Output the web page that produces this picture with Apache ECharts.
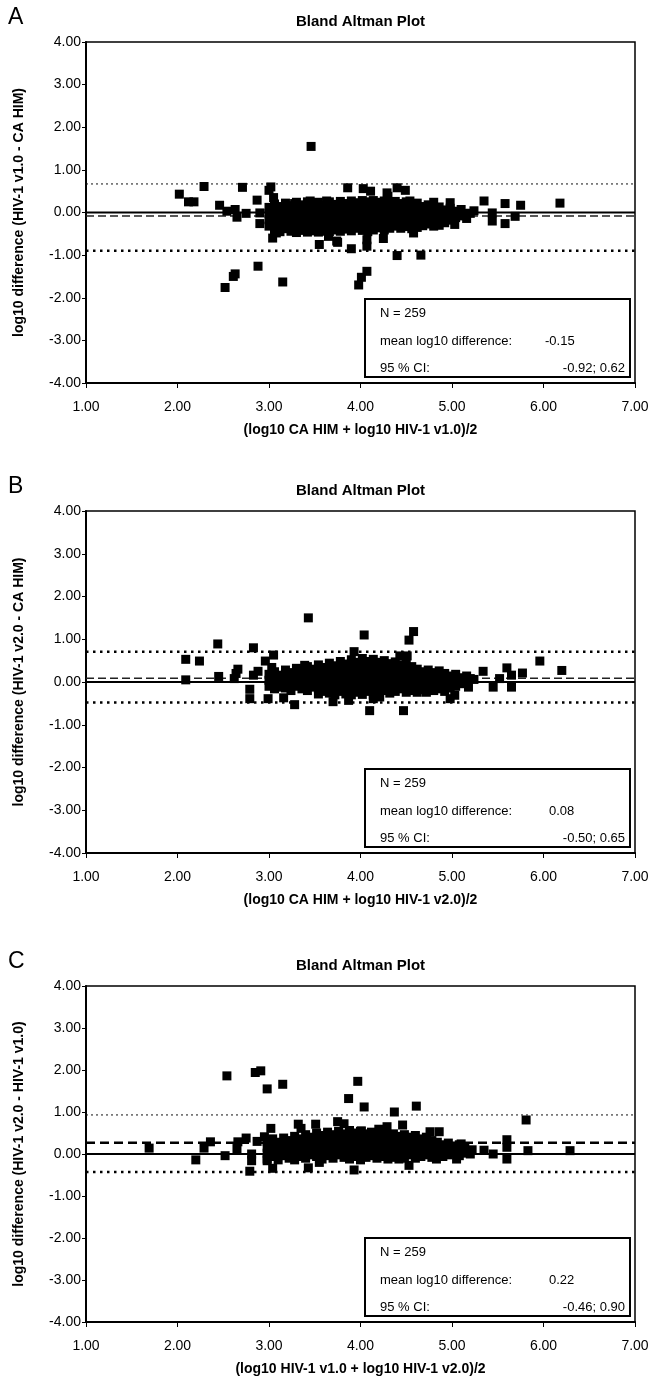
<!DOCTYPE html>
<html><head><meta charset="utf-8">
<script src="https://cdn.jsdelivr.net/npm/echarts@6/dist/echarts.min.js"></script>
<style>html,body{margin:0;padding:0;background:#fff}#c{width:654px;height:1386px}</style>
</head><body><div id="c"></div>
<script>
// ---------- DATA ----------
const panelLetters = ['A', 'B', 'C'];
const chartTitle = 'Bland Altman Plot';
const xTitles = ['(log10 CA HIM + log10 HIV-1 v1.0)/2', '(log10 CA HIM + log10 HIV-1 v2.0)/2', '(log10 HIV-1 v1.0 + log10 HIV-1 v2.0)/2'];
const yTitles = ['log10 difference (HIV-1 v1.0 - CA HIM)', 'log10 difference (HIV-1 v2.0 - CA HIM)', 'log10 difference (HIV-1 v2.0 - HIV-1 v1.0)'];
const xTickValues = [1, 2, 3, 4, 5, 6, 7];
const yTickValues = [-4, -3, -2, -1, 0, 1, 2, 3, 4];
const nCounts = [259, 259, 259];
const meanTexts = ['-0.15', '0.08', '0.22'];
const ciTexts = ['-0.92; 0.62', '-0.50; 0.65', '-0.46; 0.90'];
const zeroLines = [0, 0, 0];
const meanLines = [-0.08, 0.09, 0.27];
const upperLines = [0.67, 0.71, 0.93];
const lowerLines = [-0.90, -0.48, -0.43];

const pointsA = [
[3.46,1.55],[2.02,0.43],[2.12,0.25],[2.18,0.25],[2.29,0.61],[2.46,0.17],[2.54,0.03],[2.63,0.07],[2.65,-0.11],[2.75,-0.02],
[2.71,0.59],[2.87,0.29],[2.90,-0.01],[2.90,-0.26],[3.00,0.52],[3.02,0.60],[3.05,0.35],[3.04,-0.60],[3.08,-0.48],[2.88,-1.26],
[2.63,-1.44],[2.61,-1.50],[2.52,-1.76],[3.15,-1.63],[3.55,-0.75],[3.75,-0.70],[3.65,-0.56],[3.90,-0.85],[4.07,-0.64],[4.07,-0.79],
[4.07,-1.38],[4.01,-1.52],[3.98,-1.70],[4.40,-1.01],[4.25,-0.61],[3.86,0.58],[4.03,0.56],[4.11,0.50],[4.29,0.46],[4.40,0.58],
[4.49,0.52],[3.45,0.27],[3.28,0.21],[3.63,0.27],[4.30,0.38],[4.23,0.23],[4.54,0.27],[4.80,0.24],[4.98,0.23],[5.35,0.27],
[5.58,0.21],[5.75,0.17],[6.18,0.22],[5.44,-0.01],[5.44,-0.20],[5.58,-0.26],[5.69,-0.09],[5.20,-0.02],[5.03,-0.28],[4.83,-0.26],
[4.58,-0.48],[4.66,-1.00],[3.74,-0.67],
[3.00,0.12],[3.00,-0.02],[3.00,-0.17],[3.00,-0.32],
[3.06,0.20],[3.06,0.05],[3.06,-0.10],[3.06,-0.26],[3.06,-0.42],
[3.12,0.14],[3.12,-0.01],[3.12,-0.16],[3.12,-0.31],[3.12,-0.45],
[3.18,0.22],[3.18,0.07],[3.18,-0.08],[3.18,-0.23],[3.18,-0.38],
[3.24,0.16],[3.24,0.01],[3.24,-0.14],[3.24,-0.29],[3.24,-0.44],
[3.30,0.24],[3.30,0.09],[3.30,-0.06],[3.30,-0.21],[3.30,-0.36],[3.30,-0.47],
[3.36,0.18],[3.36,0.03],[3.36,-0.12],[3.36,-0.27],[3.36,-0.42],
[3.42,0.25],[3.42,0.10],[3.42,-0.05],[3.42,-0.20],[3.42,-0.35],[3.42,-0.46],
[3.48,0.17],[3.48,0.02],[3.48,-0.13],[3.48,-0.28],[3.48,-0.43],
[3.54,0.24],[3.54,0.09],[3.54,-0.06],[3.54,-0.21],[3.54,-0.36],[3.54,-0.46],
[3.60,0.16],[3.60,0.01],[3.60,-0.14],[3.60,-0.29],[3.60,-0.44],
[3.66,0.25],[3.66,0.11],[3.66,-0.04],[3.66,-0.19],[3.66,-0.34],[3.66,-0.45],
[3.72,0.19],[3.72,0.04],[3.72,-0.11],[3.72,-0.26],[3.72,-0.41],
[3.78,0.26],[3.78,0.13],[3.78,-0.02],[3.78,-0.17],[3.78,-0.32],[3.78,-0.44],
[3.84,0.21],[3.84,0.06],[3.84,-0.09],[3.84,-0.24],[3.84,-0.39],
[3.90,0.27],[3.90,0.15],[3.90,0.00],[3.90,-0.15],[3.90,-0.30],[3.90,-0.43],
[3.96,0.23],[3.96,0.08],[3.96,-0.07],[3.96,-0.22],[3.96,-0.37],
[4.02,0.28],[4.02,0.17],[4.02,0.02],[4.02,-0.13],[4.02,-0.28],[4.02,-0.42],
[4.08,0.25],[4.08,0.10],[4.08,-0.05],[4.08,-0.20],[4.08,-0.35],[4.08,-0.45],
[4.14,0.28],[4.14,0.16],[4.14,0.01],[4.14,-0.14],[4.14,-0.29],[4.14,-0.41],
[4.20,0.24],[4.20,0.09],[4.20,-0.06],[4.20,-0.21],[4.20,-0.36],
[4.26,0.27],[4.26,0.15],[4.26,0.00],[4.26,-0.15],[4.26,-0.30],[4.26,-0.41],
[4.32,0.23],[4.32,0.08],[4.32,-0.07],[4.32,-0.22],[4.32,-0.37],
[4.38,0.26],[4.38,0.13],[4.38,-0.02],[4.38,-0.17],[4.38,-0.32],
[4.44,0.21],[4.44,0.06],[4.44,-0.09],[4.44,-0.24],[4.44,-0.37],
[4.50,0.25],[4.50,0.11],[4.50,-0.04],[4.50,-0.19],[4.50,-0.33],
[4.56,0.18],[4.56,0.03],[4.56,-0.12],[4.56,-0.27],[4.56,-0.38],
[4.62,0.22],[4.62,0.07],[4.62,-0.08],[4.62,-0.23],[4.62,-0.35],
[4.68,0.14],[4.68,-0.01],[4.68,-0.16],[4.68,-0.31],
[4.74,0.18],[4.74,0.03],[4.74,-0.12],[4.74,-0.27],
[4.80,0.10],[4.80,-0.05],[4.80,-0.20],[4.80,-0.32],
[4.86,0.13],[4.86,-0.02],[4.86,-0.17],[4.86,-0.30],
[4.92,0.06],[4.92,-0.09],[4.92,-0.24],
[4.98,0.10],[4.98,-0.05],[4.98,-0.18],
[5.04,0.03],[5.04,-0.12],
[5.10,0.07],[5.10,-0.08],
[5.16,-0.02],[5.16,-0.14],
[5.24,0.04]
];

const pointsB = [
[2.09,0.53],[2.09,0.05],[2.24,0.49],[2.44,0.89],[2.45,0.13],[2.62,0.08],[2.64,0.20],[2.66,0.30],[2.83,0.80],[2.79,-0.17],
[2.79,-0.39],[2.83,0.16],[2.88,0.25],[2.96,0.49],[3.05,0.63],[3.03,0.34],[2.99,-0.39],[3.16,-0.37],[3.28,-0.53],[3.43,1.50],
[3.39,0.39],[3.70,-0.46],[3.87,-0.43],[4.04,1.10],[4.10,-0.67],[3.93,0.71],[4.47,-0.67],[4.43,0.61],[4.53,0.98],[4.58,1.18],
[4.51,0.61],[5.34,0.25],[5.60,0.33],[5.77,0.21],[5.96,0.49],[6.20,0.27],[5.45,-0.12],[5.65,-0.12],[5.52,0.08],[5.65,0.16],
[4.98,-0.39],[5.03,-0.31],[5.18,-0.12],[5.20,0.08],[4.72,-0.24],[4.14,-0.39],[4.21,-0.35],
[3.00,0.18],[3.00,0.04],[3.00,-0.10],
[3.06,0.24],[3.06,0.10],[3.06,-0.04],[3.06,-0.16],
[3.12,0.16],[3.12,0.02],[3.12,-0.12],
[3.18,0.28],[3.18,0.14],[3.18,0.00],[3.18,-0.14],
[3.24,0.22],[3.24,0.08],[3.24,-0.06],[3.24,-0.20],
[3.30,0.32],[3.30,0.18],[3.30,0.04],[3.30,-0.10],
[3.36,0.26],[3.36,0.12],[3.36,-0.02],[3.36,-0.16],
[3.42,0.36],[3.42,0.22],[3.42,0.08],[3.42,-0.06],[3.42,-0.20],
[3.48,0.30],[3.48,0.16],[3.48,0.02],[3.48,-0.12],
[3.54,0.40],[3.54,0.26],[3.54,0.12],[3.54,-0.02],[3.54,-0.16],[3.54,-0.28],
[3.60,0.34],[3.60,0.20],[3.60,0.06],[3.60,-0.08],[3.60,-0.22],
[3.66,0.44],[3.66,0.30],[3.66,0.16],[3.66,0.02],[3.66,-0.12],[3.66,-0.26],
[3.72,0.38],[3.72,0.24],[3.72,0.10],[3.72,-0.04],[3.72,-0.18],[3.72,-0.30],
[3.78,0.48],[3.78,0.34],[3.78,0.20],[3.78,0.06],[3.78,-0.08],[3.78,-0.22],
[3.84,0.42],[3.84,0.28],[3.84,0.14],[3.84,0.00],[3.84,-0.14],[3.84,-0.28],
[3.90,0.52],[3.90,0.38],[3.90,0.24],[3.90,0.10],[3.90,-0.04],[3.90,-0.18],[3.90,-0.30],
[3.96,0.46],[3.96,0.32],[3.96,0.18],[3.96,0.04],[3.96,-0.10],[3.96,-0.24],
[4.02,0.55],[4.02,0.41],[4.02,0.27],[4.02,0.13],[4.02,-0.01],[4.02,-0.15],[4.02,-0.29],
[4.08,0.48],[4.08,0.34],[4.08,0.20],[4.08,0.06],[4.08,-0.08],[4.08,-0.22],
[4.14,0.53],[4.14,0.39],[4.14,0.25],[4.14,0.11],[4.14,-0.03],[4.14,-0.17],[4.14,-0.30],
[4.20,0.46],[4.20,0.32],[4.20,0.18],[4.20,0.04],[4.20,-0.10],[4.20,-0.24],
[4.26,0.50],[4.26,0.36],[4.26,0.22],[4.26,0.08],[4.26,-0.06],[4.26,-0.20],
[4.32,0.43],[4.32,0.29],[4.32,0.15],[4.32,0.01],[4.32,-0.13],[4.32,-0.26],
[4.38,0.47],[4.38,0.33],[4.38,0.19],[4.38,0.05],[4.38,-0.09],[4.38,-0.22],
[4.44,0.40],[4.44,0.26],[4.44,0.12],[4.44,-0.02],[4.44,-0.16],
[4.50,0.44],[4.50,0.30],[4.50,0.16],[4.50,0.02],[4.50,-0.12],[4.50,-0.24],
[4.56,0.36],[4.56,0.22],[4.56,0.08],[4.56,-0.06],[4.56,-0.20],
[4.62,0.30],[4.62,0.16],[4.62,0.02],[4.62,-0.12],[4.62,-0.24],
[4.68,0.24],[4.68,0.10],[4.68,-0.04],[4.68,-0.18],
[4.74,0.28],[4.74,0.14],[4.74,0.00],[4.74,-0.14],
[4.80,0.22],[4.80,0.08],[4.80,-0.06],[4.80,-0.20],
[4.86,0.26],[4.86,0.12],[4.86,-0.02],[4.86,-0.16],
[4.92,0.20],[4.92,0.06],[4.92,-0.08],[4.92,-0.22],
[4.98,0.14],[4.98,0.00],[4.98,-0.14],
[5.04,0.18],[5.04,0.04],[5.04,-0.10],
[5.10,0.10],[5.10,-0.04],
[5.16,0.14],[5.16,0.00],
[5.24,0.06]
];

const pointsC = [
[1.69,0.14],[2.20,-0.14],[2.29,0.14],[2.36,0.29],[2.52,-0.04],[2.54,1.86],[2.65,0.13],[2.66,0.29],[2.75,0.38],[2.79,-0.41],
[2.81,-0.16],[2.81,0.00],[2.85,1.94],[2.91,1.98],[2.98,1.55],[3.15,1.66],[3.02,0.61],[2.95,0.41],[2.87,0.30],[2.98,-0.16],
[3.04,-0.34],[3.28,-0.14],[3.43,-0.33],[3.32,0.71],[3.35,0.61],[3.51,0.71],[3.75,0.77],[3.82,0.72],[3.87,1.32],[3.97,1.73],
[4.04,1.12],[3.93,-0.38],[3.55,-0.20],[4.37,1.00],[4.46,0.69],[4.01,0.55],[4.20,0.59],[4.29,0.65],[4.61,1.14],[5.81,0.81],
[5.83,0.08],[6.29,0.08],[5.60,0.34],[5.60,0.16],[5.60,-0.12],[5.35,0.09],[5.45,0.00],[5.10,0.24],[5.20,0.00],[5.05,-0.12],
[4.83,-0.12],[4.76,0.53],[4.86,0.53],[4.53,-0.27],
[2.98,0.30],[2.98,0.16],[2.98,0.02],[2.98,-0.12],
[3.04,0.36],[3.04,0.22],[3.04,0.08],[3.04,-0.06],
[3.10,0.28],[3.10,0.14],[3.10,0.00],[3.10,-0.14],
[3.16,0.38],[3.16,0.24],[3.16,0.10],[3.16,-0.04],
[3.22,0.32],[3.22,0.18],[3.22,0.04],[3.22,-0.10],
[3.28,0.42],[3.28,0.28],[3.28,0.14],[3.28,0.00],
[3.34,0.36],[3.34,0.22],[3.34,0.08],[3.34,-0.06],
[3.40,0.46],[3.40,0.32],[3.40,0.18],[3.40,0.04],[3.40,-0.10],
[3.46,0.40],[3.46,0.26],[3.46,0.12],[3.46,-0.02],
[3.52,0.50],[3.52,0.36],[3.52,0.22],[3.52,0.08],[3.52,-0.06],
[3.58,0.44],[3.58,0.30],[3.58,0.16],[3.58,0.02],[3.58,-0.12],
[3.64,0.52],[3.64,0.38],[3.64,0.24],[3.64,0.10],[3.64,-0.04],
[3.70,0.46],[3.70,0.32],[3.70,0.18],[3.70,0.04],[3.70,-0.10],
[3.76,0.54],[3.76,0.40],[3.76,0.26],[3.76,0.12],[3.76,-0.02],
[3.82,0.48],[3.82,0.34],[3.82,0.20],[3.82,0.06],[3.82,-0.08],
[3.88,0.56],[3.88,0.42],[3.88,0.28],[3.88,0.14],[3.88,0.00],[3.88,-0.12],
[3.94,0.50],[3.94,0.36],[3.94,0.22],[3.94,0.08],[3.94,-0.06],
[4.00,0.54],[4.00,0.40],[4.00,0.26],[4.00,0.12],[4.00,-0.02],[4.00,-0.14],
[4.06,0.48],[4.06,0.34],[4.06,0.20],[4.06,0.06],[4.06,-0.08],
[4.12,0.52],[4.12,0.38],[4.12,0.24],[4.12,0.10],[4.12,-0.04],
[4.18,0.46],[4.18,0.32],[4.18,0.18],[4.18,0.04],[4.18,-0.10],
[4.24,0.50],[4.24,0.36],[4.24,0.22],[4.24,0.08],[4.24,-0.06],
[4.30,0.44],[4.30,0.30],[4.30,0.16],[4.30,0.02],[4.30,-0.12],
[4.36,0.48],[4.36,0.34],[4.36,0.20],[4.36,0.06],[4.36,-0.08],
[4.42,0.42],[4.42,0.28],[4.42,0.14],[4.42,0.00],[4.42,-0.12],
[4.48,0.46],[4.48,0.32],[4.48,0.18],[4.48,0.04],[4.48,-0.10],
[4.54,0.40],[4.54,0.26],[4.54,0.12],[4.54,-0.02],
[4.60,0.44],[4.60,0.30],[4.60,0.16],[4.60,0.02],[4.60,-0.10],
[4.66,0.36],[4.66,0.22],[4.66,0.08],[4.66,-0.06],
[4.72,0.40],[4.72,0.26],[4.72,0.12],[4.72,-0.02],
[4.78,0.32],[4.78,0.18],[4.78,0.04],[4.78,-0.08],
[4.84,0.28],[4.84,0.14],[4.84,0.00],
[4.90,0.22],[4.90,0.08],[4.90,-0.06],
[4.96,0.26],[4.96,0.12],[4.96,-0.02],
[5.02,0.18],[5.02,0.04],
[5.08,0.22],[5.08,0.08],[5.08,-0.04],
[5.14,0.14],[5.14,0.02],
[5.22,0.10]
];
const panelPoints = [pointsA, pointsB, pointsC];

// ---------- LAYOUT / STYLE ----------
const FONT = '"Liberation Sans", Arial, Helvetica, sans-serif';
const gridTops = [42, 511, 986];
const gridHeights = [341, 342, 336];
const gridL = 86, gridW = 549;
const meanStyles = [
  {color:'#222', width:1.5, type:[8,4]},
  {color:'#222', width:1.5, type:[8,4]},
  {color:'#000', width:2.5, type:[9,5]}
];
const upperStyles = [
  {color:'#111', width:1, type:[2,3]},
  {color:'#000', width:2.5, type:[2.5,4.5]},
  {color:'#111', width:1, type:[2,3]}
];
const lowerStyle = {color:'#000', width:2.5, type:[2.5,4.5]};

const grids = [], xAxes = [], yAxes = [], series = [], graphics = [];
const xMin = xTickValues[0], xMax = xTickValues[xTickValues.length-1];
const yMin = yTickValues[0], yMax = yTickValues[yTickValues.length-1];

for (let i = 0; i < 3; i++) {
  const top = gridTops[i], h = gridHeights[i];
  grids.push({left: gridL, top: top, width: gridW, height: h, show: true, borderColor: '#000', borderWidth: 1.5, backgroundColor: 'transparent'});
  xAxes.push({
    type: 'value', gridIndex: i, min: xMin, max: xMax, interval: 1,
    name: xTitles[i], nameLocation: 'middle', nameGap: 40,
    nameTextStyle: {fontFamily: FONT, fontWeight: 'bold', fontSize: 14, color: '#000'},
    axisLine: {onZero: false, lineStyle: {color: '#000', width: 2}},
    axisTick: {show: true, inside: false, length: 5, lineStyle: {color: '#000', width: 1}},
    axisLabel: {fontFamily: FONT, fontSize: 14, color: '#000', margin: 17, formatter: v => v.toFixed(2)},
    splitLine: {show: false}
  });
  yAxes.push({
    type: 'value', gridIndex: i, min: yMin, max: yMax, interval: 1,
    name: yTitles[i], nameLocation: 'middle', nameGap: 60,
    nameTextStyle: {fontFamily: FONT, fontWeight: 'bold', fontSize: 14, color: '#000'},
    axisLine: {onZero: false, lineStyle: {color: '#000', width: 2}},
    axisTick: {show: true, inside: false, length: 4, lineStyle: {color: '#000', width: 1}},
    axisLabel: {fontFamily: FONT, fontSize: 14, color: '#000', margin: 5, formatter: v => v.toFixed(2)},
    splitLine: {show: false}
  });
  const refLine = (v, ls) => ({
    type: 'line', xAxisIndex: i, yAxisIndex: i, data: [[xMin, v], [xMax, v]],
    symbol: 'none', silent: true, z: 1, lineStyle: ls
  });
  series.push(refLine(zeroLines[i], {color: '#000', width: 2, type: 'solid'}));
  series.push(refLine(meanLines[i], meanStyles[i]));
  series.push(refLine(upperLines[i], upperStyles[i]));
  series.push(refLine(lowerLines[i], lowerStyle));
  series.push({
    type: 'scatter', xAxisIndex: i, yAxisIndex: i, data: panelPoints[i],
    symbol: 'rect', symbolSize: 9, z: 3, silent: true,
    itemStyle: {color: '#000', opacity: 1}
  });

  graphics.push({type: 'text', left: 8, top: top - 36,
    style: {text: panelLetters[i], font: '23px ' + FONT, fill: '#000'}});
  graphics.push({type: 'text', x: gridL + gridW / 2, y: top - 20,
    style: {text: chartTitle, font: 'bold 15px ' + FONT, fill: '#000', align: 'center', verticalAlign: 'middle'}});
  const bx = 365, bw = 265, bh = 78, by = top + h - 84;
  const mt = meanTexts[i];
  graphics.push({type: 'group', x: bx, y: by, children: [
    {type: 'rect', shape: {x: 0, y: 0, width: bw, height: bh}, style: {fill: '#fff', stroke: '#000', lineWidth: 2}},
    {type: 'text', x: 15, y: 14, style: {text: 'N = ' + nCounts[i], font: '13px ' + FONT, fill: '#000', verticalAlign: 'middle'}},
    {type: 'text', x: 15, y: 42, style: {text: 'mean log10 difference:', font: '13px ' + FONT, fill: '#000', verticalAlign: 'middle'}},
    {type: 'text', x: mt.charAt(0) === '-' ? 180 : 184, y: 42, style: {text: mt, font: '13px ' + FONT, fill: '#000', verticalAlign: 'middle'}},
    {type: 'text', x: 15, y: 69, style: {text: '95 % CI:', font: '13px ' + FONT, fill: '#000', verticalAlign: 'middle'}},
    {type: 'text', x: bw - 5, y: 69, style: {text: ciTexts[i], font: '13px ' + FONT, fill: '#000', verticalAlign: 'middle', align: 'right'}}
  ]});
}

const chart = echarts.init(document.getElementById('c'), null, {renderer: 'canvas'});
chart.setOption({
  animation: false,
  backgroundColor: '#fff',
  grid: grids, xAxis: xAxes, yAxis: yAxes, series: series, graphic: graphics
});
</script>
</body></html>
